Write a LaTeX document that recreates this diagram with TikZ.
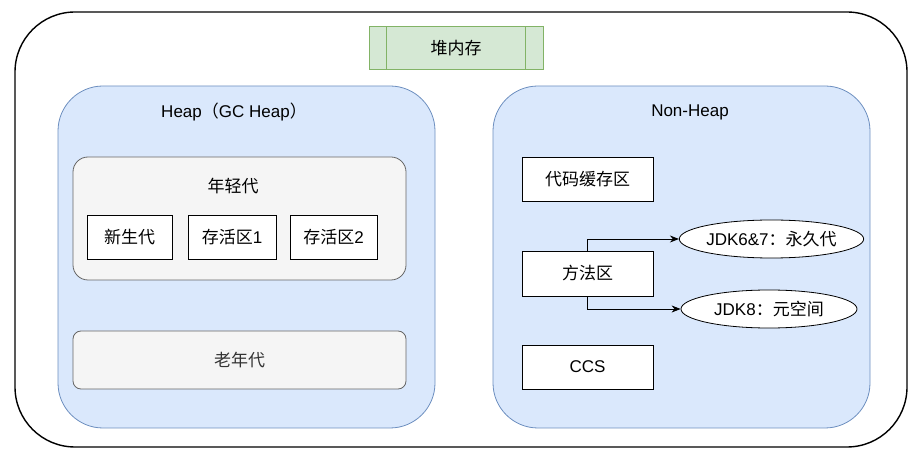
\documentclass[tikz,border=0pt]{standalone}
\usepackage{fontspec}
\setmainfont{Liberation Sans}
\newfontfamily\cjk{Noto Sans CJK SC}
\usetikzlibrary{arrows.meta,positioning,shapes.geometric}
\definecolor{greenfill}{HTML}{D5E8D4}
\definecolor{greenline}{HTML}{82B366}
\definecolor{bluefill}{HTML}{DAE8FC}
\definecolor{blueline}{HTML}{6C8EBF}
\definecolor{grayfill}{HTML}{F5F5F5}
\definecolor{grayline}{HTML}{666666}
\definecolor{graytext}{HTML}{333333}

\begin{document}
\begin{tikzpicture}[
  x=1pt, y=-1pt,
  font=\fontsize{17}{20}\selectfont,
  outer/.style={rectangle, draw, line width=1.4pt, rounded corners=60pt, minimum width=892pt, minimum height=435pt},
  title/.style={rectangle, draw=greenline, fill=greenfill, line width=1pt, minimum width=174pt, minimum height=43pt},
  panel/.style={rectangle, draw=blueline, fill=bluefill, line width=0.8pt, rounded corners=45pt, minimum width=377pt, minimum height=342pt},
  group/.style={rectangle, draw=grayline, fill=grayfill, line width=0.8pt, rounded corners=15pt, minimum width=333pt, minimum height=123pt},
  box/.style={rectangle, draw, fill=white, line width=0.8pt, minimum height=44pt},
  oval/.style={ellipse, draw, fill=white, line width=0.8pt, minimum width=181pt, minimum height=38pt, inner sep=0pt},
  link/.style={draw, line width=0.8pt, -{Stealth[length=9pt,width=7pt]}}
]
  \useasboundingbox (0,0) rectangle (922,462);
  \node[outer] (all) at (461,229.5) {};
  \node[title] (heapmem) at (456,48.5) {\cjk 堆内存};
  \draw[greenline, line width=1pt] ([xshift=18pt]heapmem.north west) -- ([xshift=18pt]heapmem.south west);
  \draw[greenline, line width=1pt] ([xshift=-18pt]heapmem.north east) -- ([xshift=-18pt]heapmem.south east);

  % heap side
  \node[panel] (heap) at (246.5,257) {};
  \node at (234,112) (heaptitle) {Heap{\cjk （}GC Heap{\cjk ）}};
  \node[group] (young) at (239.5,218.5) {};
  \node at (233,186) (youngtitle) {\cjk 年轻代};
  \node[box, minimum width=85pt] (eden) at (129.5,237) {\cjk 新生代};
  \node[box, minimum width=88pt] (s1) at (232,237) {{\cjk 存活区}1};
  \node[box, minimum width=87pt] (s2) at (333.5,237) {{\cjk 存活区}2};
  \node[group, rounded corners=8pt, minimum height=58pt, text=graytext] (old) at (239.5,360) {\cjk 老年代};

  % non-heap side
  \node[panel] (nonheap) at (681.5,257) {};
  \node at (690,112) (nonheaptitle) {Non-Heap};
  \node[box, minimum width=131pt] (codecache) at (587.5,179) {\cjk 代码缓存区};
  \node[box, minimum width=131pt, minimum height=45pt] (method) at (587.5,273.5) {\cjk 方法区};
  \node[box, minimum width=131pt] (ccs) at (587.5,367) {CCS};
  \node[oval] (perm) at (771.5,239) {JDK6\&7{\cjk ：永久代}};
  \node[oval, minimum width=176pt] (meta) at (769,309) {JDK8{\cjk ：元空间}};

  \draw[link] (method.north) |- (perm.west);
  \draw[link] (method.south) |- (meta.west);
\end{tikzpicture}
\end{document}
